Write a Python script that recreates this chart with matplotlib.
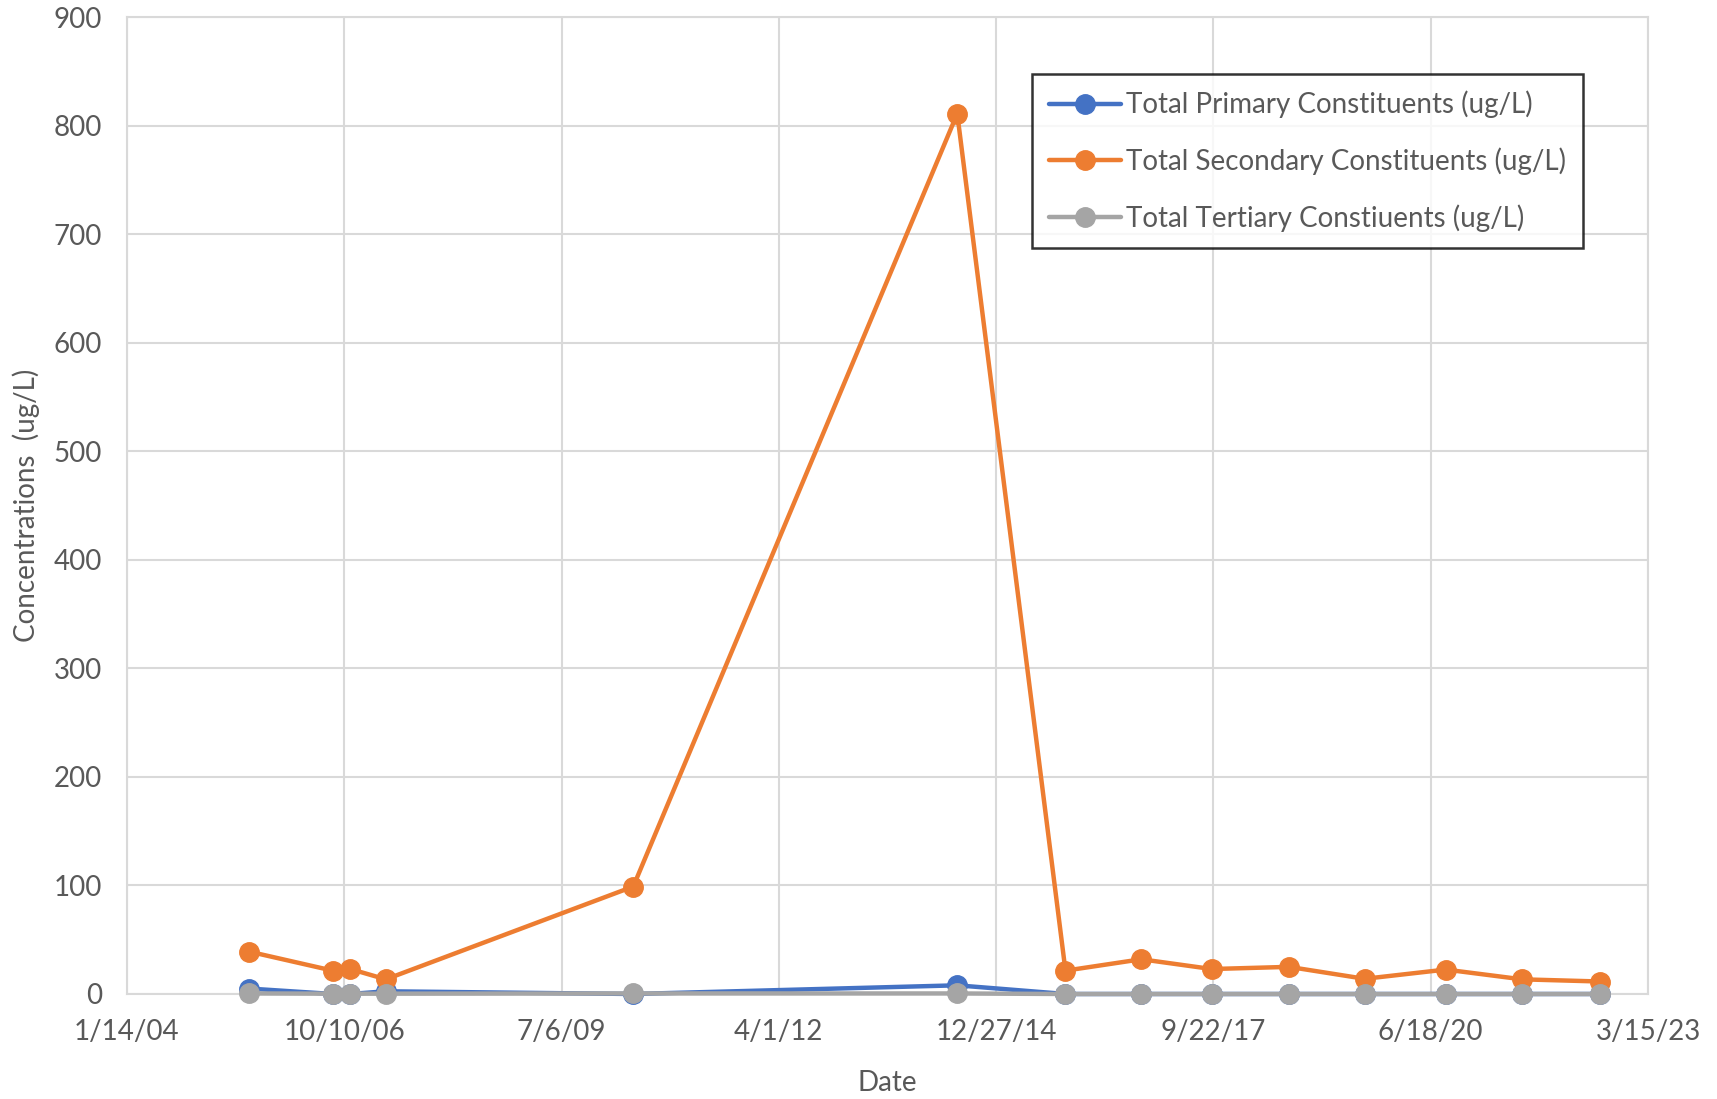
import matplotlib
matplotlib.use("Agg")
import matplotlib.pyplot as plt
import numpy as np
from datetime import datetime, timedelta

# Sampling dates
dates = ["2005-07-30", "2006-08-18", "2006-11-07", "2007-04-19", "2010-06-01",
         "2014-07-01", "2015-11-11", "2016-10-25", "2017-09-14", "2018-09-05",
         "2019-08-19", "2020-08-26", "2021-08-13", "2022-08-08"]

# Concentrations (ug/L)
primary = [5, 0, 0, 2.5, 0, 8, 0, 0, 0, 0, 0, 0, 0, 0]
secondary = [39, 21.5, 23, 13.5, 99, 811, 21.5, 32, 23, 25, 14, 22.5, 13.5, 11.5]
tertiary = [0.5, 0.3, 0.3, 0.3, 0.5, 0.5, 0, 0, 0, 0, 0, 0, 0, 0]

series_names = ["Total Primary Constituents (ug/L)",
                "Total Secondary Constituents (ug/L)",
                "Total Tertiary Constiuents (ug/L)"]
series_colors = ["#4472C4", "#ED7D31", "#A5A5A5"]

x_start = "2004-01-14"
x_step_days = 1000
x_n_ticks = 8
y_ticks = [0, 100, 200, 300, 400, 500, 600, 700, 800, 900]

plt.rcParams['font.family'] = ['Lato', 'DejaVu Sans']
text_color = "#595959"
grid_color = "#D9D9D9"
fs = 20

fig = plt.figure(figsize=(17.17, 10.99), dpi=100)
ax = fig.add_axes([127 / 1717, 1 - 994 / 1099, (1648 - 127) / 1717, (994 - 17) / 1099])

x = [datetime.strptime(d, "%Y-%m-%d") for d in dates]
for vals, name, col in zip([primary, secondary, tertiary], series_names, series_colors):
    ax.plot(x, vals, color=col, lw=3.2, marker="o", ms=14, label=name,
            solid_capstyle="round", zorder=3, clip_on=False)

t0 = datetime.strptime(x_start, "%Y-%m-%d")
xticks = [t0 + timedelta(days=x_step_days * i) for i in range(x_n_ticks)]
ax.set_xlim(xticks[0], xticks[-1])
ax.set_xticks(xticks)
ax.set_xticklabels([f"{t.month}/{t.day}/{t.year % 100:02d}" for t in xticks])
ax.set_ylim(0, 900)
ax.set_yticks(y_ticks)

ax.grid(True, color=grid_color, lw=1.5, zorder=0)
ax.set_axisbelow(True)
for s in ax.spines.values():
    s.set_color(grid_color)
    s.set_linewidth(1.5)
ax.tick_params(length=0, labelsize=fs, colors=text_color)
ax.tick_params(axis="y", pad=18)
ax.tick_params(axis="x", pad=18)

ax.set_xlabel("Date", fontsize=fs, color=text_color, labelpad=18)
ax.set_ylabel("Concentrations  (ug/L)", fontsize=fs, color=text_color, labelpad=10)

leg = ax.legend(loc="upper left", bbox_to_anchor=((1032 - 127) / 1521, (994 - 74) / 977),
                fontsize=fs, frameon=True, fancybox=False, edgecolor="black",
                handlelength=2.6, handletextpad=0.2, borderpad=0.6, labelspacing=1.05,
                borderaxespad=0)
leg.get_frame().set_linewidth(1.8)
for t in leg.get_texts():
    t.set_color(text_color)

fig.savefig("out.png", dpi=100)
